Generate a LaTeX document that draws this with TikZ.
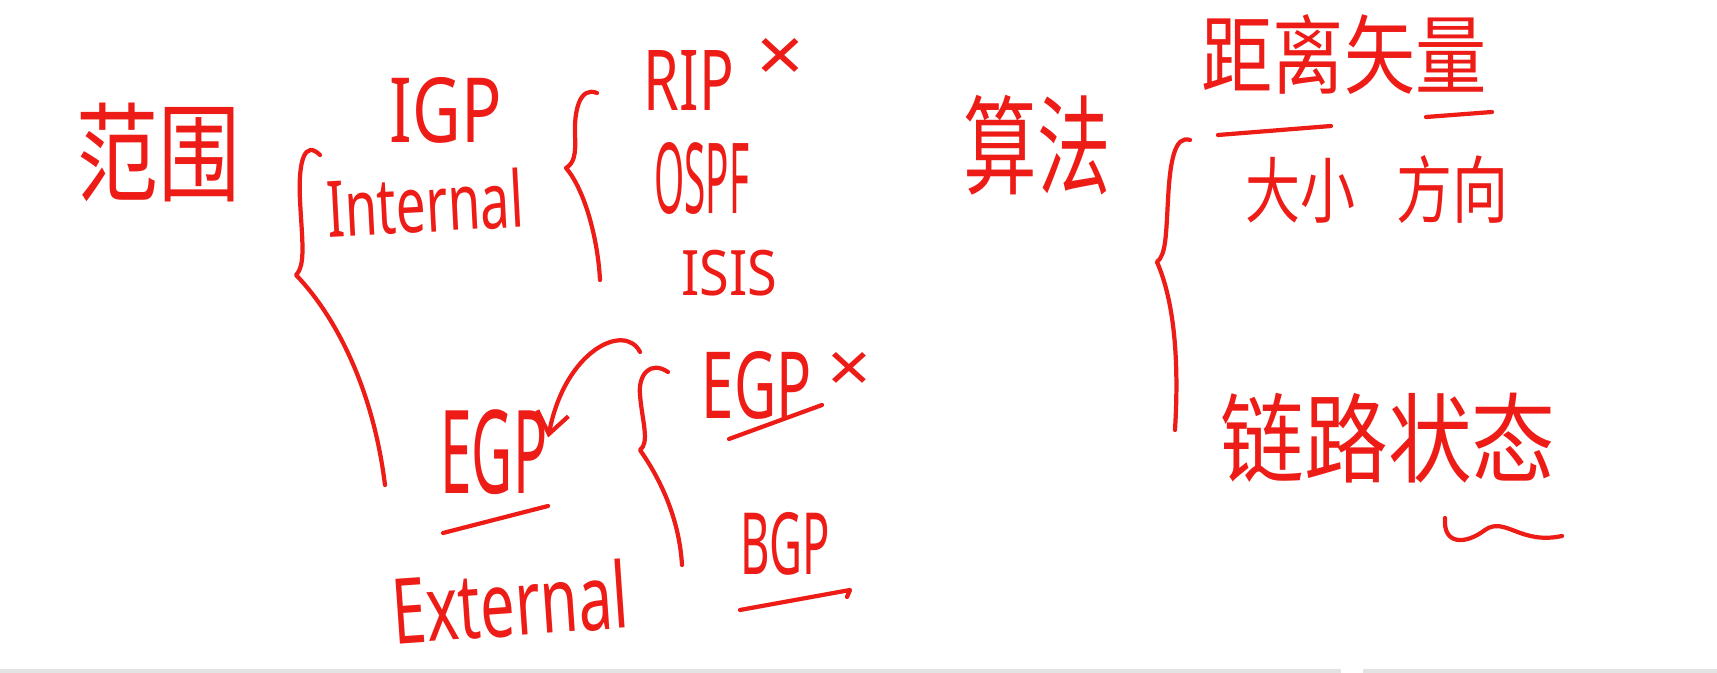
\documentclass[tikz,border=0pt]{standalone}
\usepackage{fontspec}
\usepackage{graphicx}
\setmainfont{Noto Sans}
\newfontfamily\cjk{Noto Sans CJK SC}
\usetikzlibrary{arrows.meta}
\definecolor{ink}{RGB}{238,28,22}
\definecolor{barg}{RGB}{226,228,228}
\newlength\pxu
\setlength\pxu{0.01cm}
\newcommand\fitbox[3]{\resizebox*{#1\pxu}{#2\pxu}{#3}}
\begin{document}
\begin{tikzpicture}[x=0.01cm,y=-0.01cm,
  lbl/.style={text=ink, inner sep=0pt, anchor=center},
  pen/.style={draw=ink, line width=1.2pt, line cap=round, line join=round}]
\useasboundingbox (0,0) rectangle (1717,673);
\fill[white] (0,0) rectangle (1717,673);
\fill[barg] (0,669) rectangle (1341,673);
\fill[barg] (1363,669) rectangle (1717,673);

% left group
\node[lbl] (fanwei) at (159,153) {\fitbox{164}{99}{\cjk 范围}};
\node[lbl] (igp) at (446,110) {\fitbox{112}{66}{IGP}};
\node[lbl, rotate=3] (internal) at (425,203) {\fitbox{197}{60}{Internal}};
\node[lbl] (rip) at (689,80) {\fitbox{90}{60}{RIP}};
\node[lbl] (ripx) at (780,60) {\fitbox{48}{44}{×}};
\node[lbl] (ospf) at (702,178) {\fitbox{95}{72}{OSPF}};
\node[lbl] (isis) at (729,273) {\fitbox{96}{46}{ISIS}};
\node[lbl] (egp) at (494,452) {\fitbox{107}{85}{EGP}};
\node[lbl] (egp2) at (757,385) {\fitbox{110}{68}{EGP}};
\node[lbl] (egpx) at (849,372) {\fitbox{44}{40}{×}};
\node[lbl] (bgp) at (785,544) {\fitbox{90}{63}{BGP}};
\node[lbl, rotate=4] (external) at (510,602) {\fitbox{236}{70}{External}};

% right group
\node[lbl] (suanfa) at (1037,145) {\fitbox{147}{100}{\cjk 算法}};
\node[lbl] (jlsl) at (1344,55) {\fitbox{285}{80}{\cjk 距离矢量}};
\node[lbl] (daxiao) at (1300,190) {\fitbox{110}{66}{\cjk 大小}};
\node[lbl] (fangxiang) at (1452,190) {\fitbox{112}{68}{\cjk 方向}};
\node[lbl] (llzt) at (1388,438) {\fitbox{335}{90}{\cjk 链路状态}};

% braces
\draw[pen] (320,155) .. controls (305,140) and (298,160) .. (300,200)
  .. controls (302,240) and (306,265) .. (296,275)
  .. controls (330,310) and (372,380) .. (385,485);
\draw[pen] (597,93) .. controls (580,86) and (574,110) .. (575,135)
  .. controls (576,155) and (574,163) .. (566,168)
  .. controls (585,190) and (598,240) .. (600,280);
\draw[pen] (668,372) .. controls (650,360) and (638,375) .. (640,395)
  .. controls (642,420) and (650,443) .. (640,450)
  .. controls (668,490) and (680,530) .. (682,565);
\draw[pen] (1190,140) .. controls (1175,135) and (1170,160) .. (1168,200)
  .. controls (1166,235) and (1166,255) .. (1157,262)
  .. controls (1178,310) and (1178,380) .. (1175,430);

% arrow to EGP
\draw[pen, -{Straight Barb[length=6pt,width=9pt]}] (640,352) .. controls (625,322) and (565,350) .. (egp.15);

% underlines
\draw[pen] (443,533) -- (548,506);
\draw[pen] (729,439) -- (822,405);
\draw[pen] (740,610) -- (850,590) -- (847,597);
\draw[pen] (1218,135) -- (1331,126);
\draw[pen] (1426,117) -- (1492,112);
\draw[pen] (1445,518) .. controls (1443,545) and (1465,545) .. (1485,530)
  .. controls (1505,516) and (1520,545) .. (1562,536);
\end{tikzpicture}
\end{document}
